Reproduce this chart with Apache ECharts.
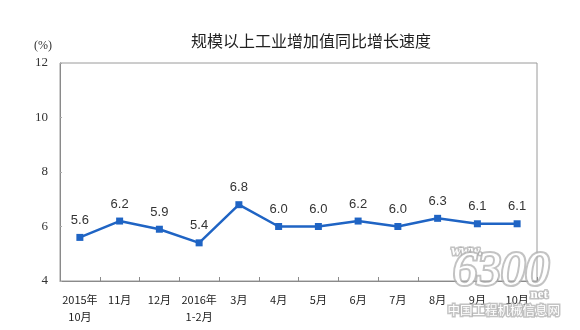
<!DOCTYPE html>
<html>
<head>
<meta charset="utf-8">
<script src="https://cdn.jsdelivr.net/npm/echarts@6/dist/echarts.min.js"></script>
<style>
  html, body { margin: 0; padding: 0; background: #fff; }
  #chart { width: 580px; height: 330px; }
</style>
</head>
<body>
<div id="chart"></div>
<script>
// Monthly year-on-year growth of industrial value added (%)
const months = ['2015年\n10月', '11月', '12月', '2016年\n1-2月', '3月', '4月', '5月', '6月', '7月', '8月', '9月', '10月'];
const growth = [5.6, 6.2, 5.9, 5.4, 6.8, 6.0, 6.0, 6.2, 6.0, 6.3, 6.1, 6.1];
const yTicks = { min: 4, max: 12, step: 2 };

const chart = echarts.init(document.getElementById('chart'), null, { renderer: 'canvas' });

// white site stamp with a soft grey halo
const stamp = (left, top, text, font, halo) => ({
  type: 'text', left, top, z: 100,
  style: {
    text, font, fill: '#ffffff',
    stroke: 'rgba(175,175,175,0.75)', lineWidth: halo, strokeFirst: true
  }
});

chart.setOption({
  backgroundColor: '#ffffff',
  animation: false,
  title: {
    text: '规模以上工业增加值同比增长速度',
    left: 306, top: 28, textAlign: 'center',
    textStyle: { fontFamily: 'Noto Sans CJK SC', fontSize: 16, fontWeight: 'normal', color: '#222' }
  },
  grid: { left: 60, right: 43, top: 63, bottom: 49, show: true, borderColor: '#9a9a9a', borderWidth: 1 },
  xAxis: {
    type: 'category',
    data: months,
    boundaryGap: true,
    axisLine: { lineStyle: { color: '#8a8a8a', width: 1 } },
    axisTick: { show: true, inside: true, length: 4, lineStyle: { color: '#8a8a8a' } },
    axisLabel: {
      margin: 10, interval: 0, color: '#222', lineHeight: 17,
      fontFamily: 'Noto Sans CJK SC', fontSize: 11
    },
    splitLine: { show: false }
  },
  yAxis: {
    type: 'value',
    min: yTicks.min, max: yTicks.max, interval: yTicks.step,
    name: '(%)',
    nameLocation: 'end',
    nameGap: 11,
    nameTextStyle: { fontFamily: 'Liberation Serif', fontSize: 12, color: '#333', align: 'right', padding: [0, 8, 0, 0] },
    axisLine: { show: true, lineStyle: { color: '#8a8a8a', width: 1 } },
    axisTick: { show: true, inside: true, length: 2, lineStyle: { color: '#aaa' } },
    axisLabel: { margin: 12, color: '#333', fontFamily: 'Liberation Serif', fontSize: 13 },
    splitLine: { show: false }
  },
  series: [{
    type: 'line',
    data: growth,
    symbol: 'rect',
    symbolSize: 7,
    lineStyle: { color: '#1f64c4', width: 2.5 },
    itemStyle: { color: '#1f64c4' },
    label: {
      show: true, position: 'top', distance: 7,
      color: '#333', fontFamily: 'Liberation Sans', fontSize: 13,
      formatter: p => p.value.toFixed(1)
    }
  }],
  graphic: [
    stamp(450, 243, 'www.', 'italic bold 14px "Liberation Serif"', 3),
    stamp(451, 246, '6300', 'italic 48px "Liberation Serif"', 4),
    stamp(529, 287, 'net', 'bold 13px "Liberation Serif"', 3),
    stamp(446, 302, '中国工程机械信息网', '12.5px "Noto Sans CJK SC"', 3)
  ]
});
</script>
</body>
</html>
